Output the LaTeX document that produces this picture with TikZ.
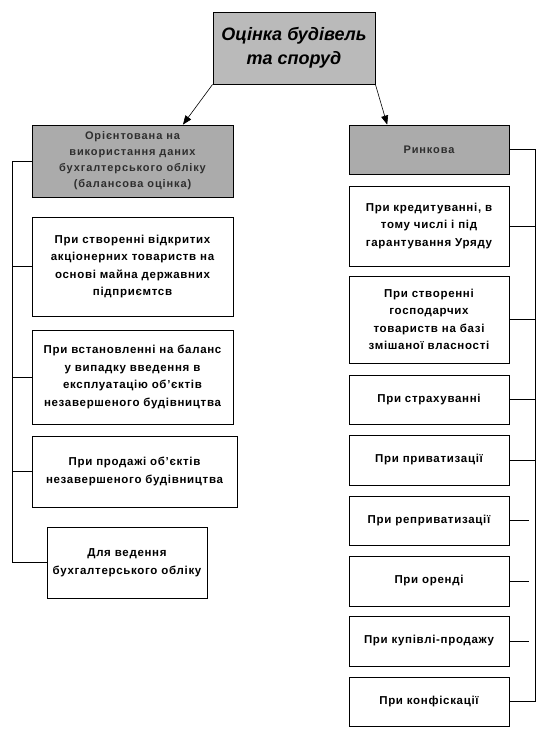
\documentclass[tikz,border=0pt]{standalone}
\usepackage{fontspec}
\setmainfont{Liberation Sans}
\usetikzlibrary{arrows.meta,calc}
\begin{document}
\begin{tikzpicture}[x=1pt,y=-1pt,
  box/.style={draw,line width=0.8pt,align=center,inner sep=2pt,font=\bfseries\fontsize{11.5}{17.5}\selectfont\addfontfeatures{LetterSpace=6}},
  shaded/.style={box,fill=black!33,text=black!82,font=\bfseries\fontsize{11}{16}\selectfont\addfontfeatures{LetterSpace=8}},
  topbox/.style={draw,line width=0.8pt,fill=black!27,align=center,font=\bfseries\itshape\fontsize{18}{24}\selectfont},
  conn/.style={line width=0.8pt},
  arr/.style={line width=0.6pt,-{Triangle[length=9pt,width=7pt]}}]
\useasboundingbox (0,0) rectangle (548,738);
\fill[white] (0,0) rectangle (548,738);
\node[topbox,minimum width=162pt,minimum height=72pt] (top) at (294,48) {Оцінка будівель\\та споруд};
% left column
\node[shaded,minimum width=201pt,minimum height=72pt] (L0) at (132.5,161) {Орієнтована на\\використання даних\\бухгалтерського обліку\\(балансова оцінка)};
\node[box,minimum width=201pt,minimum height=99pt] (L1) at (132.5,266.5) {При створенні відкритих\\акціонерних товариств на\\основі майна державних\\підприємтсв};
\node[box,minimum width=201pt,minimum height=94pt] (L2) at (132.5,377) {При встановленні на баланс\\у випадку введення в\\експлуатацію об'єктів\\незавершеного будівництва};
\node[box,minimum width=205pt,minimum height=71pt] (L3) at (134.5,471.5) {При продажі об'єктів\\незавершеного будівництва};
\node[box,minimum width=160pt,minimum height=71pt] (L4) at (127,562.5) {Для ведення\\бухгалтерського обліку};
% right column
\node[shaded,minimum width=160pt,minimum height=49pt] (R0) at (429,149.5) {Ринкова};
\node[box,minimum width=160pt,minimum height=80pt] (R1) at (429,226) {При кредитуванні, в\\тому числі і під\\гарантування Уряду};
\node[box,minimum width=160pt,minimum height=87pt] (R2) at (429,319.5) {При створенні\\господарчих\\товариств на базі\\змішаної власності};
\node[box,minimum width=160pt,minimum height=49pt] (R3) at (429,399.5) {При страхуванні};
\node[box,minimum width=160pt,minimum height=50pt] (R4) at (429,460) {При приватизації};
\node[box,minimum width=160pt,minimum height=49pt] (R5) at (429,520.5) {При реприватизації};
\node[box,minimum width=160pt,minimum height=50pt] (R6) at (429,581) {При оренді};
\node[box,minimum width=160pt,minimum height=50pt] (R7) at (429,641) {При купівлі-продажу};
\node[box,minimum width=160pt,minimum height=49pt] (R8) at (429,701.5) {При конфіскації};
% arrows
\draw[arr] (top.south west) -- ($(L0.north west)!0.75!(L0.north east)$);
\draw[arr] (top.south east) -- ($(R0.north west)!0.24!(R0.north east)$);
% left bus
\coordinate (lb) at (12,161);
\draw[conn] (L0.west) -- (lb) |- (L4.west);
\foreach \n in {L1,L2,L3} \draw[conn] (\n.west) -- (\n.west -| lb);
% right bus
\coordinate (rb) at (535,149.5);
\draw[conn] (R0.east) -- (rb) |- (R8.east);
\foreach \n in {R1,R2,R3,R4} \draw[conn] (\n.east) -- (\n.east -| rb);
\foreach \n in {R5,R6,R7} \draw[conn] (\n.east) -- ++(20,0);
\end{tikzpicture}
\end{document}
